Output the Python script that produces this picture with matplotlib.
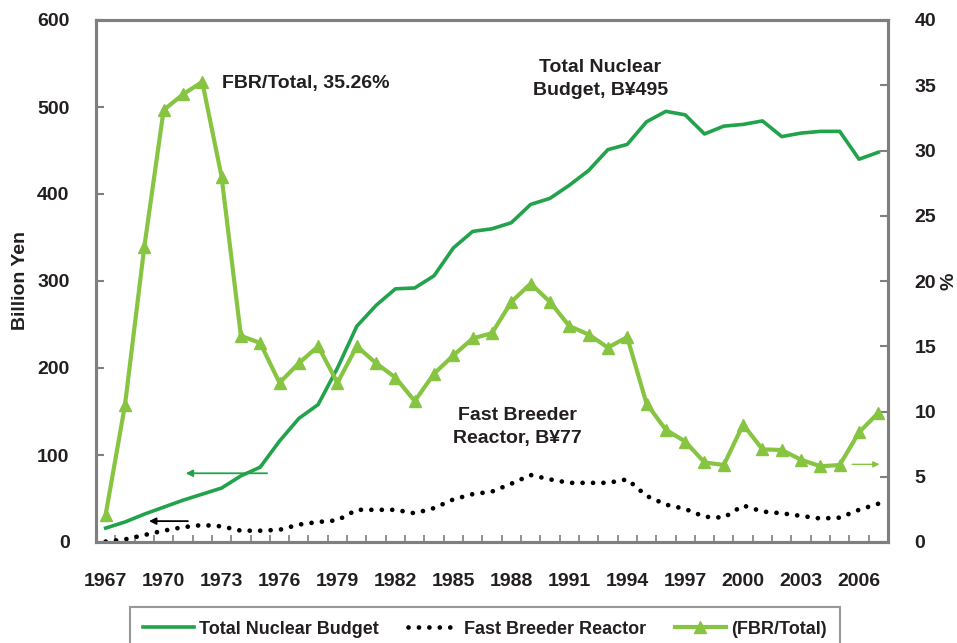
import numpy as np
import matplotlib
matplotlib.use('Agg')
import matplotlib.pyplot as plt

# ------------------------------------------------------------
# Data
# ------------------------------------------------------------
years = list(range(1967, 2008))

total_budget = [16, 23, 32, 40, 48, 55, 62, 76, 86, 116,
                142, 158, 200, 248, 272, 291, 292, 306, 338, 357,
                360, 367, 388, 395, 410, 427, 451, 457, 483, 495,
                491, 469, 478, 480, 484, 466, 470, 472, 472, 440,
                448]

fbr_budget = [0.5, 3, 8, 13, 17, 19.5, 18, 13, 13, 14,
              20, 23, 25, 37, 37, 37, 33, 39, 49, 55,
              58, 67, 77, 72, 68, 68, 68, 72, 53, 43,
              38, 29, 28, 42, 35, 33, 30, 27, 28, 37,
              44]

fbr_share = [2.1, 10.5, 22.6, 33.1, 34.3, 35.26, 28.0, 15.8, 15.25, 12.2,
             13.7, 15.0, 12.2, 15.0, 13.7, 12.6, 10.8, 12.9, 14.3, 15.6,
             16.0, 18.4, 19.8, 18.4, 16.55, 15.9, 14.9, 15.7, 10.6, 8.6,
             7.7, 6.1, 5.9, 9.0, 7.1, 7.05, 6.3, 5.8, 5.9, 8.4,
             9.9]

year_labels = list(range(1967, 2007, 3))
left_ticks = [0, 100, 200, 300, 400, 500, 600]
right_ticks = [0, 5, 10, 15, 20, 25, 30, 35, 40]

DARK_GREEN = '#22a24a'
LIGHT_GREEN = '#86c441'
AXIS_GREY = '#7f7f7f'
TXT = '#231f20'

plt.rcParams['font.family'] = ['Liberation Sans', 'DejaVu Sans']
plt.rcParams['font.weight'] = 'bold'

fig = plt.figure(figsize=(9.57, 6.43), dpi=100)
ax = fig.add_axes([96 / 957, 101 / 643, 792 / 957, 522 / 643])
ax2 = ax.twinx()

# Series
l1, = ax.plot(years, total_budget, color=DARK_GREEN, linewidth=2.6,
              label='Total Nuclear Budget', zorder=3)
l2, = ax.plot(years, fbr_budget, color='black', linewidth=3.4,
              linestyle=(0, (0.01, 2.2)), dash_capstyle='round',
              label='Fast Breeder Reactor', zorder=3)
l3, = ax2.plot(years, fbr_share, color=LIGHT_GREEN, linewidth=3.0,
               marker='^', markersize=9, label='(FBR/Total)', zorder=3)

# Axes limits and ticks
ax.set_xlim(1966.5, 2007.5)
ax.set_ylim(0, 600)
ax2.set_ylim(0, 40)

ax.set_xticks(year_labels)
ax.set_xticklabels([str(y) for y in year_labels], fontsize=14, color=TXT)
ax.tick_params(axis='x', which='major', length=0, pad=22)
ax.set_xticks(np.arange(1967.5, 2007, 1), minor=True)
ax.tick_params(axis='x', which='minor', direction='in', length=5,
               width=1.2, color=AXIS_GREY)

ax.set_yticks(left_ticks)
ax.set_yticklabels([str(v) for v in left_ticks], fontsize=14, color=TXT)
ax.tick_params(axis='y', direction='in', length=6, width=1.5,
               color=AXIS_GREY, pad=19)
ax2.set_yticks(right_ticks)
ax2.set_yticklabels([str(v) for v in right_ticks], fontsize=14, color=TXT)
ax2.tick_params(axis='y', direction='in', length=6, width=1.5,
                color=AXIS_GREY, pad=19)

for a in (ax, ax2):
    for s in a.spines.values():
        s.set_color(AXIS_GREY)
        s.set_linewidth(2.2)

ax.set_ylabel('Billion Yen', fontsize=14, color=TXT, fontweight='bold',
              labelpad=6)
ax2.set_ylabel('%', fontsize=14, color=TXT, fontweight='bold', labelpad=3)

# Annotations
ax2.text(1973.0, 35.1, 'FBR/Total, 35.26%', fontsize=14, color=TXT,
         ha='left', va='center')
ax.text(1992.6, 532, 'Total Nuclear\nBudget, B\u00a5495', fontsize=14,
        color=TXT, ha='center', va='center', linespacing=1.45)
ax.text(1988.3, 132, 'Fast Breeder\nReactor, B\u00a577', fontsize=14,
        color=TXT, ha='center', va='center', linespacing=1.45)

ax.annotate('', xy=(1971.0, 79), xytext=(1975.5, 79),
            arrowprops=dict(arrowstyle='-|>', color=DARK_GREEN, lw=1.3,
                            mutation_scale=10))
ax.annotate('', xy=(1969.1, 24), xytext=(1971.4, 24),
            arrowprops=dict(arrowstyle='-|>', color='black', lw=1.3,
                            mutation_scale=10))
ax2.annotate('', xy=(2007.2, 5.95), xytext=(2005.5, 5.95),
             arrowprops=dict(arrowstyle='-|>', color=LIGHT_GREEN, lw=1.0,
                             mutation_scale=9))

# Legend (bottom of the frame runs off the picture, as in the original)
leg = fig.legend(handles=[l1, l2, l3], loc='upper center',
                 bbox_to_anchor=(485 / 957, 45 / 643), ncol=3,
                 fontsize=13, frameon=True, fancybox=False,
                 handlelength=2.8, columnspacing=1.6, handletextpad=0.3,
                 borderpad=0.75, edgecolor=AXIS_GREY)
leg.get_frame().set_linewidth(1.5)
for t in leg.get_texts():
    t.set_color(TXT)

fig.savefig('out.png', dpi=100)
